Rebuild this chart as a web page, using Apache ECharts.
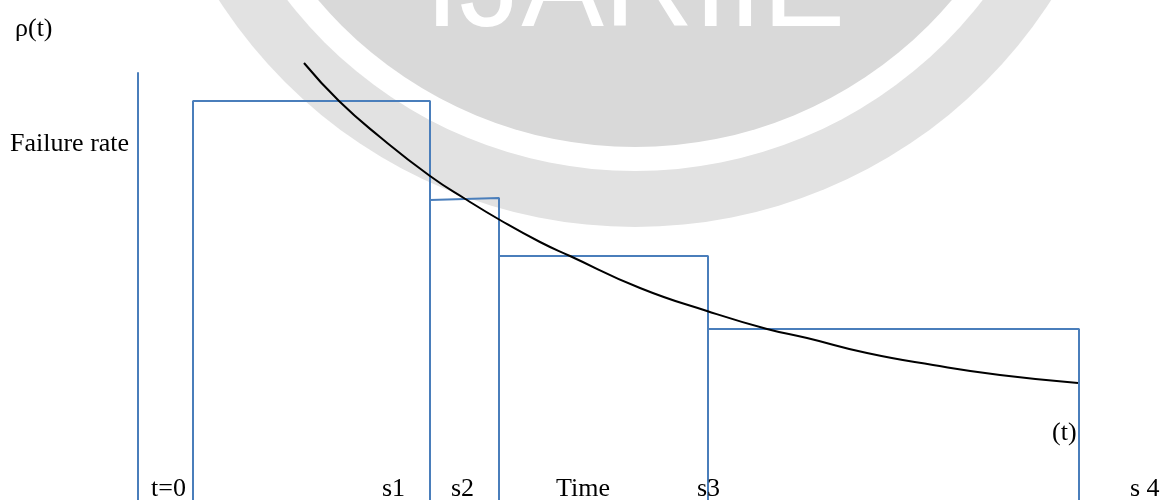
<!DOCTYPE html>
<html>
<head>
<meta charset="utf-8">
<style>
  html, body { margin: 0; padding: 0; background: #fff; }
  #chart { width: 1164px; height: 500px; }
</style>
<script src="https://cdn.jsdelivr.net/npm/echarts@6/dist/echarts.min.js"></script>
</head>
<body>
<div id="chart"></div>
<script>
// step boundaries on the time axis: t=0, s1, s2, s3, s4
const stepEdges = [0.55, 2.92, 3.61, 5.70, 9.41]
// height of each step at its left and right end
const stepTopLeft  = [3.99, 3.00, 2.44, 1.71]
const stepTopRight = [3.99, 3.02, 2.44, 1.71]

// failure rate curve rho(t)
const curveT   = [1.66, 2.01, 2.42, 2.92, 3.29, 3.62, 4.02, 4.32, 5.02, 5.69, 6.29, 6.69, 7.29, 7.95, 8.62, 9.40]
const curveRho = [4.37, 3.99, 3.63, 3.24, 3.00, 2.80, 2.58, 2.44, 2.12, 1.89, 1.71, 1.62, 1.47, 1.35, 1.25, 1.17]

const BLUE = '#4a7ebb'
const FONT = '"Liberation Serif", "Times New Roman", serif'

// outline of each step, separated by gaps so no line runs along the bottom
const stepPath = []
stepTopLeft.forEach((h, i) => {
  const a = stepEdges[i], b = stepEdges[i + 1]
  if (i === 0) stepPath.push([a, 0])
  stepPath.push([a, h], [b, stepTopRight[i]], [b, 0])
  if (i < stepTopLeft.length - 1) stepPath.push('-')
})

const chart = echarts.init(document.getElementById('chart'))

function label(text, x, y) {
  return {
    type: 'text', left: x, top: y, z: 10,
    style: { text, fill: '#000', font: '26px ' + FONT },
  }
}

chart.setOption({
  backgroundColor: '#fff',
  animation: false,
  grid: { left: 138, right: 0, top: 73, bottom: 0 },
  xAxis: { type: 'value', min: 0, max: 10.26, show: false },
  yAxis: {
    type: 'value', min: 0, max: 4.27,
    axisLine: { show: true, lineStyle: { color: BLUE, width: 2 } },
    axisTick: { show: false },
    axisLabel: { show: false },
    splitLine: { show: false },
  },
  graphic: [
    // watermark badge
    { type: 'circle', z: -10, silent: true, shape: { cx: 635, cy: -268, r: 495 }, style: { fill: '#e2e2e2' } },
    { type: 'circle', z: -9, silent: true, shape: { cx: 635, cy: -268, r: 439 }, style: { fill: '#fff' } },
    { type: 'circle', z: -8, silent: true, shape: { cx: 635, cy: -268, r: 415 }, style: { fill: '#d9d9d9' } },
    {
      type: 'text', z: -7, silent: true, x: 635, y: -8,
      style: { text: 'IJARIIE', fill: '#fff', font: '124px "Liberation Sans", Arial, sans-serif', align: 'center', verticalAlign: 'middle' },
    },
    label('ρ(t)', 15, 16),
    label('Failure rate', 10, 131),
    label('t=0', 151, 476),
    label('s1', 382, 476),
    label('s2', 451, 476),
    label('Time', 556, 476),
    label('s3', 697, 476),
    label('(t)', 1052, 420),
    label('s 4', 1130, 476),
  ],
  series: [
    {
      type: 'line',
      data: stepPath,
      symbol: 'none',
      clip: false,
      connectNulls: false,
      lineStyle: { color: BLUE, width: 2 },
      z: 3,
    },
    {
      type: 'line',
      data: curveT.map((t, i) => [t, curveRho[i]]),
      smooth: 0.5,
      symbol: 'none',
      clip: false,
      lineStyle: { color: '#000', width: 2 },
      z: 4,
    },
  ],
})
</script>
</body>
</html>
